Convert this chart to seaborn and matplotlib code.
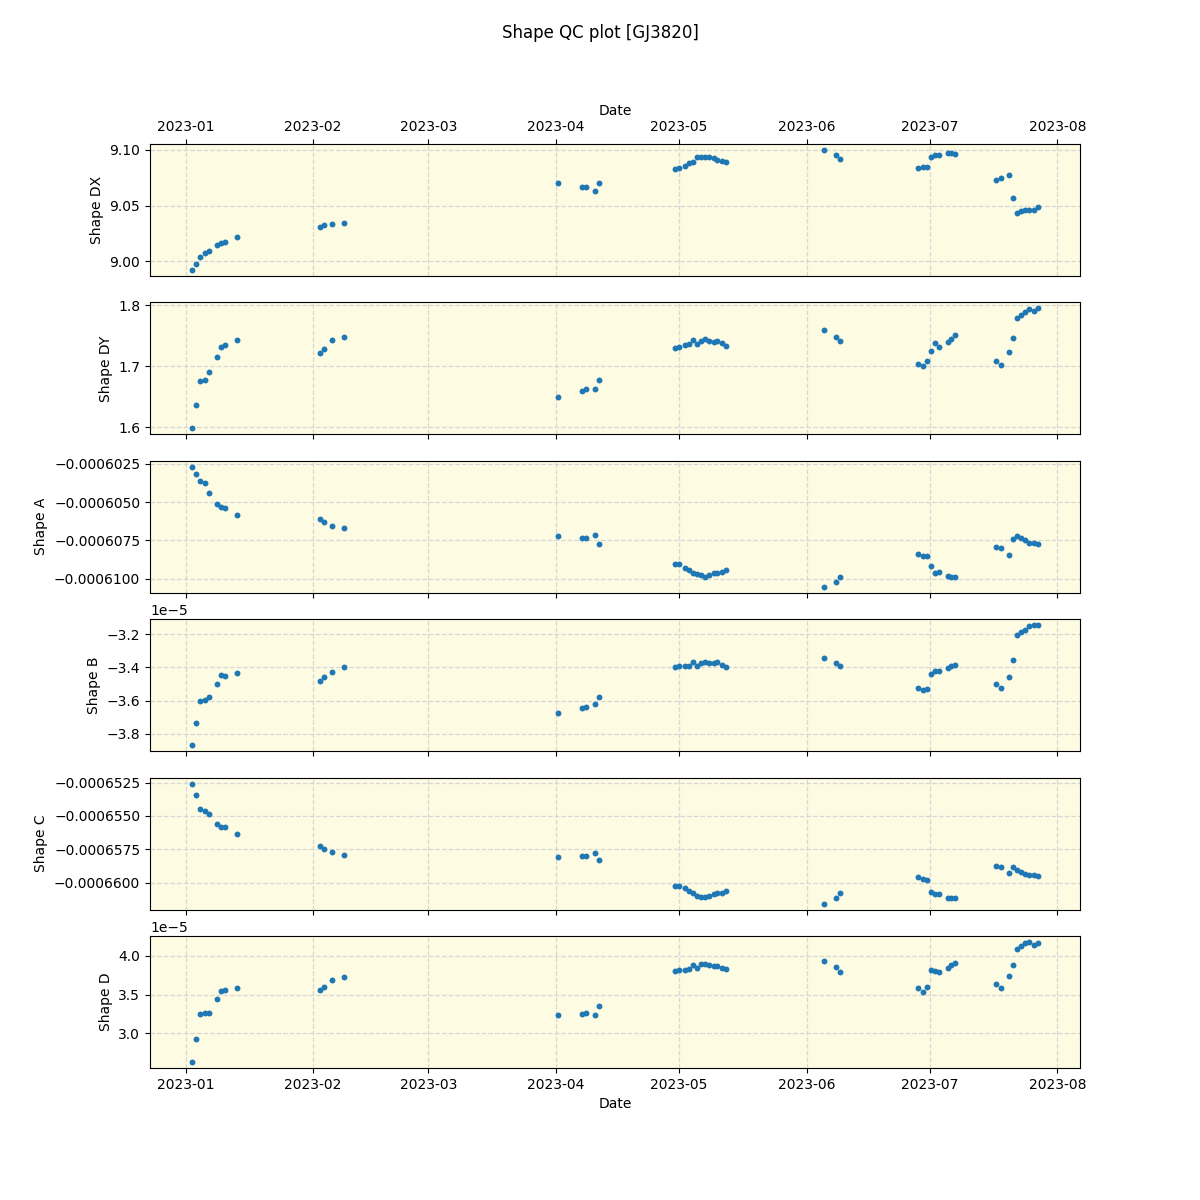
import matplotlib
matplotlib.use("Agg")
import matplotlib.pyplot as plt
import matplotlib.dates as mdates
import seaborn as sns
import pandas as pd

dates = [
    "2023-01-02 14:38", "2023-01-03 13:55", "2023-01-04 13:26", "2023-01-05 14:38", "2023-01-06 17:45",
    "2023-01-08 16:33", "2023-01-09 15:50", "2023-01-10 15:07", "2023-01-13 13:12",
    "2023-02-02 16:48", "2023-02-03 16:48", "2023-02-05 14:24", "2023-02-08 12:00",
    "2023-04-01 13:12", "2023-04-07 09:36", "2023-04-08 09:36", "2023-04-10 13:12", "2023-04-11 12:00",
    "2023-04-30 01:41", "2023-05-01 01:00", "2023-05-02 10:05", "2023-05-03 09:22", "2023-05-04 08:38",
    "2023-05-05 07:55", "2023-05-06 09:22", "2023-05-07 08:38", "2023-05-08 07:55", "2023-05-09 09:07",
    "2023-05-10 06:29", "2023-05-11 07:55", "2023-05-12 09:07",
    "2023-06-05 04:48", "2023-06-08 02:24", "2023-06-09 02:24",
    "2023-06-28 00:00", "2023-06-29 04:48", "2023-06-30 04:48", "2023-07-01 04:48", "2023-07-02 04:48",
    "2023-07-03 02:24", "2023-07-05 07:12", "2023-07-06 02:24", "2023-07-07 02:24",
    "2023-07-17 00:00", "2023-07-18 04:48", "2023-07-20 04:48", "2023-07-21 02:24", "2023-07-22 02:24",
    "2023-07-23 02:24", "2023-07-24 02:24", "2023-07-25 00:00", "2023-07-26 04:48", "2023-07-27 04:48",
]

shape_dx = [8.9922, 8.9976, 9.0039, 9.0075, 9.0096, 9.0147, 9.0165, 9.0177, 9.0219,
            9.0308, 9.0327, 9.0336, 9.0345,
            9.0704, 9.0668, 9.0668, 9.0632, 9.0704,
            9.0829, 9.0835, 9.0856, 9.0883, 9.0895, 9.0937, 9.0940, 9.0940, 9.0937, 9.0928, 9.0910, 9.0901, 9.0889,
            9.1000, 9.0955, 9.0919,
            9.0838, 9.0847, 9.0847, 9.0937, 9.0955, 9.0955, 9.0976, 9.0973, 9.0964,
            9.0731, 9.0749, 9.0775, 9.0569, 9.0434, 9.0452, 9.0461, 9.0461, 9.0461, 9.0488]

shape_dy = [1.5978, 1.6354, 1.6763, 1.6779, 1.6910, 1.7155, 1.7319, 1.7351, 1.7422,
            1.7221, 1.7286, 1.7433, 1.7482,
            1.6501, 1.6599, 1.6616, 1.6616, 1.6779,
            1.7302, 1.7319, 1.7351, 1.7368, 1.7433, 1.7368, 1.7417, 1.7449, 1.7417, 1.7400, 1.7417, 1.7384, 1.7335,
            1.7597, 1.7482, 1.7417,
            1.7041, 1.7008, 1.7079, 1.7253, 1.7373, 1.7319, 1.7400, 1.7449, 1.7504,
            1.7090, 1.7024, 1.7237, 1.7466, 1.7793, 1.7842, 1.7891, 1.7929, 1.7907, 1.7946]

shape_a = [-0.00060270, -0.00060315, -0.00060361, -0.00060374, -0.00060439, -0.00060511, -0.00060530, -0.00060537, -0.00060583,
           -0.00060609, -0.00060628, -0.00060654, -0.00060667,
           -0.00060720, -0.00060733, -0.00060733, -0.00060713, -0.00060772,
           -0.00060902, -0.00060902, -0.00060928, -0.00060941, -0.00060961, -0.00060967, -0.00060974, -0.00060987,
           -0.00060974, -0.00060961, -0.00060961, -0.00060954, -0.00060941,
           -0.00061052, -0.00061020, -0.00060987,
           -0.00060837, -0.00060850, -0.00060850, -0.00060915, -0.00060961, -0.00060954, -0.00060980, -0.00060987, -0.00060987,
           -0.00060791, -0.00060798, -0.00060843, -0.00060739, -0.00060720, -0.00060733, -0.00060746, -0.00060765, -0.00060765, -0.00060772]

shape_b = [-3.868e-5, -3.736e-5, -3.603e-5, -3.597e-5, -3.579e-5, -3.501e-5, -3.447e-5, -3.453e-5, -3.435e-5,
           -3.483e-5, -3.459e-5, -3.429e-5, -3.399e-5,
           -3.676e-5, -3.645e-5, -3.639e-5, -3.621e-5, -3.579e-5,
           -3.399e-5, -3.393e-5, -3.393e-5, -3.393e-5, -3.369e-5, -3.393e-5, -3.375e-5, -3.369e-5, -3.375e-5,
           -3.375e-5, -3.365e-5, -3.387e-5, -3.399e-5,
           -3.344e-5, -3.375e-5, -3.393e-5,
           -3.525e-5, -3.537e-5, -3.531e-5, -3.441e-5, -3.423e-5, -3.423e-5, -3.405e-5, -3.393e-5, -3.387e-5,
           -3.501e-5, -3.525e-5, -3.459e-5, -3.357e-5, -3.206e-5, -3.188e-5, -3.176e-5, -3.152e-5, -3.146e-5, -3.146e-5]

shape_c = [-0.00065258, -0.00065340, -0.00065445, -0.00065460, -0.00065483, -0.00065558, -0.00065580, -0.00065580, -0.00065633,
           -0.00065723, -0.00065745, -0.00065768, -0.00065790,
           -0.00065805, -0.00065798, -0.00065798, -0.00065775, -0.00065828,
           -0.00066023, -0.00066023, -0.00066038, -0.00066060, -0.00066075, -0.00066098, -0.00066105, -0.00066105,
           -0.00066098, -0.00066083, -0.00066075, -0.00066075, -0.00066060,
           -0.00066158, -0.00066113, -0.00066075,
           -0.00065955, -0.00065970, -0.00065978, -0.00066068, -0.00066083, -0.00066083, -0.00066113, -0.00066113, -0.00066113,
           -0.00065873, -0.00065880, -0.00065925, -0.00065880, -0.00065903, -0.00065918, -0.00065933, -0.00065940, -0.00065940, -0.00065948]

shape_d = [2.629e-5, 2.927e-5, 3.250e-5, 3.263e-5, 3.263e-5, 3.444e-5, 3.547e-5, 3.560e-5, 3.586e-5,
           3.560e-5, 3.599e-5, 3.690e-5, 3.728e-5,
           3.237e-5, 3.250e-5, 3.263e-5, 3.237e-5, 3.353e-5,
           3.806e-5, 3.819e-5, 3.819e-5, 3.832e-5, 3.884e-5, 3.845e-5, 3.897e-5, 3.897e-5, 3.884e-5, 3.871e-5,
           3.871e-5, 3.845e-5, 3.832e-5,
           3.935e-5, 3.858e-5, 3.793e-5,
           3.586e-5, 3.535e-5, 3.599e-5, 3.819e-5, 3.806e-5, 3.793e-5, 3.845e-5, 3.884e-5, 3.909e-5,
           3.638e-5, 3.586e-5, 3.741e-5, 3.884e-5, 4.091e-5, 4.129e-5, 4.168e-5, 4.181e-5, 4.142e-5, 4.168e-5]

panel_labels = ["Shape DX", "Shape DY", "Shape A", "Shape B", "Shape C", "Shape D"]
title = "Shape QC plot [GJ3820]"

df = pd.DataFrame({
    "Date": pd.to_datetime(dates),
    "Shape DX": shape_dx, "Shape DY": shape_dy, "Shape A": shape_a,
    "Shape B": shape_b, "Shape C": shape_c, "Shape D": shape_d,
})

fig, axes = plt.subplots(6, 1, figsize=(12, 12), dpi=100, sharex=True)

for ax, col in zip(axes, panel_labels):
    sns.scatterplot(data=df, x="Date", y=col, ax=ax, color="#1f77b4", s=18, linewidth=0)
    ax.set_facecolor("#fdfbe2")
    ax.grid(True, linestyle="--", color="lightgray", linewidth=0.9, alpha=0.9)
    ax.set_axisbelow(True)
    ax.set_ylabel(col)
    ax.set_xlabel("")
    ax.ticklabel_format(axis="y", useOffset=False)

axes[-1].xaxis.set_major_locator(mdates.MonthLocator())
axes[-1].xaxis.set_major_formatter(mdates.DateFormatter("%Y-%m"))
axes[-1].set_xlabel("Date")

top = axes[0]
top.xaxis.tick_top()
top.xaxis.set_tick_params(which="both", labeltop=True, top=True)
top.xaxis.set_label_position("top")
top.set_xlabel("Date")
top.xaxis.label.set_visible(True)

fig.suptitle(title)
fig.savefig("out.png", dpi=100)
